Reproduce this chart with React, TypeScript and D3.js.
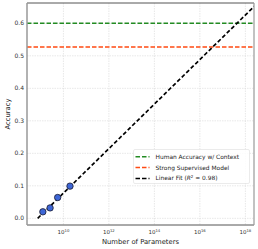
import React, { useEffect, useRef } from 'react';
import * as d3 from 'd3';

// data
const modelParams = [1.25e9, 2.6e9, 5.6e9, 1.95e10];
const modelAccuracy = [0.02, 0.032, 0.064, 0.099];
const humanAccuracy = 0.6;
const supervisedAccuracy = 0.527;
const fitSlope = 0.0685;
const fitStartLog = 8.87;
const fitEndLog = 18.6;
const xTickExps = [10, 12, 14, 16, 18];
const yTicks = [0.0, 0.1, 0.2, 0.3, 0.4, 0.5, 0.6];
const legendItems = [
  { label: 'Human Accuracy w/ Context', color: '#238b23' },
  { label: 'Strong Supervised Model', color: '#ff4a12' },
  { label: 'Linear Fit', color: '#000000' },
];

const App = () => {
  const ref = useRef<SVGSVGElement | null>(null);

  useEffect(() => {
    const width = 258;
    const height = 249;
    const margin = { top: 3, right: 4, bottom: 24, left: 27 };
    const svg = d3.select(ref.current);
    svg.selectAll('*').remove();

    const x = d3.scaleLog()
      .domain([Math.pow(10, 8.4), Math.pow(10, 18.38)])
      .range([margin.left, width - margin.right]);
    const y = d3.scaleLinear()
      .domain([-0.0206, 0.6625])
      .range([height - margin.bottom, margin.top]);

    const font = 'DejaVu Sans, sans-serif';

    svg.append('rect')
      .attr('width', width).attr('height', height).attr('fill', '#fff');

    svg.append('defs').append('clipPath').attr('id', 'plotclip')
      .append('rect')
      .attr('x', margin.left).attr('y', margin.top)
      .attr('width', width - margin.left - margin.right)
      .attr('height', height - margin.top - margin.bottom);

    // grid
    const grid = svg.append('g')
      .attr('stroke', '#d6d6d6').attr('stroke-width', 0.6).attr('stroke-dasharray', '1.5,1');
    yTicks.forEach(t => {
      grid.append('line')
        .attr('x1', margin.left).attr('x2', width - margin.right)
        .attr('y1', y(t)).attr('y2', y(t));
    });
    xTickExps.forEach(e => {
      grid.append('line')
        .attr('x1', x(Math.pow(10, e))).attr('x2', x(Math.pow(10, e)))
        .attr('y1', margin.top).attr('y2', height - margin.bottom);
    });

    const plot = svg.append('g').attr('clip-path', 'url(#plotclip)');

    plot.append('line')
      .attr('x1', margin.left).attr('x2', width - margin.right)
      .attr('y1', y(humanAccuracy)).attr('y2', y(humanAccuracy))
      .attr('stroke', legendItems[0].color).attr('stroke-width', 1.5)
      .attr('stroke-dasharray', '4.5,2');
    plot.append('line')
      .attr('x1', margin.left).attr('x2', width - margin.right)
      .attr('y1', y(supervisedAccuracy)).attr('y2', y(supervisedAccuracy))
      .attr('stroke', legendItems[1].color).attr('stroke-width', 1.5)
      .attr('stroke-dasharray', '4.5,2');

    const fitLogs = [fitStartLog, fitEndLog];
    const line = d3.line<number>()
      .x(l => x(Math.pow(10, l)))
      .y(l => y(fitSlope * (l - fitStartLog)));
    plot.append('path')
      .attr('d', line(fitLogs))
      .attr('fill', 'none').attr('stroke', '#000').attr('stroke-width', 1.7)
      .attr('stroke-dasharray', '4,2.3');

    plot.selectAll('circle.pt')
      .data(modelParams)
      .join('circle')
      .attr('class', 'pt')
      .attr('cx', d => x(d))
      .attr('cy', (d, i) => y(modelAccuracy[i]))
      .attr('r', 3.2)
      .attr('fill', '#3d66d6')
      .attr('stroke', '#1a1a2e').attr('stroke-width', 0.8);

    // spines
    const l = margin.left, r = width - margin.right, t = margin.top, b = height - margin.bottom;
    svg.append('line').attr('x1', l).attr('x2', r).attr('y1', t).attr('y2', t)
      .attr('stroke', '#555').attr('stroke-width', 1);
    svg.append('line').attr('x1', l).attr('x2', r).attr('y1', b).attr('y2', b)
      .attr('stroke', '#555').attr('stroke-width', 1);
    svg.append('line').attr('x1', l).attr('x2', l).attr('y1', t).attr('y2', b)
      .attr('stroke', '#999').attr('stroke-width', 1.5);
    svg.append('line').attr('x1', r).attr('x2', r).attr('y1', t).attr('y2', b)
      .attr('stroke', '#999').attr('stroke-width', 1.2);

    // y tick labels
    yTicks.forEach(v => {
      svg.append('text')
        .attr('x', l - 3).attr('y', y(v)).attr('dy', '0.35em')
        .attr('text-anchor', 'end')
        .style('font-family', font).style('font-size', '6px').attr('fill', '#333')
        .text(v.toFixed(1));
    });

    // x tick labels
    xTickExps.forEach(e => {
      const tx = svg.append('text')
        .attr('x', x(Math.pow(10, e))).attr('y', b + 9)
        .attr('text-anchor', 'middle')
        .style('font-family', font).style('font-size', '5.5px').attr('fill', '#333');
      tx.append('tspan').text('10');
      tx.append('tspan').attr('dy', '-2').style('font-size', '3.8px').text(String(e));
    });

    svg.append('text')
      .attr('x', (l + r) / 2).attr('y', height - 5)
      .attr('text-anchor', 'middle')
      .style('font-family', font).style('font-size', '6.8px').attr('fill', '#222')
      .text('Number of Parameters');

    svg.append('text')
      .attr('transform', `translate(9.5,${(t + b) / 2}) rotate(-90)`)
      .attr('text-anchor', 'middle')
      .style('font-family', font).style('font-size', '6.8px').attr('fill', '#222')
      .text('Accuracy');

    // legend
    const lg = svg.append('g').attr('transform', 'translate(133.5,149.5)');
    lg.append('rect')
      .attr('width', 116).attr('height', 34).attr('rx', 1.5)
      .attr('fill', '#fff').attr('fill-opacity', 0.85)
      .attr('stroke', '#ddd').attr('stroke-width', 0.6);
    legendItems.forEach((it, i) => {
      const yy = 7.3 + i * 10.8;
      lg.append('line')
        .attr('x1', 2).attr('x2', 16).attr('y1', yy).attr('y2', yy)
        .attr('stroke', it.color).attr('stroke-width', 1.5)
        .attr('stroke-dasharray', '4.5,2');
      const tx = lg.append('text')
        .attr('x', 22).attr('y', yy).attr('dy', '0.35em')
        .style('font-family', font).style('font-size', '5.9px').attr('fill', '#222')
        .text(it.label);
      if (i === 2) {
        tx.append('tspan').text(' (');
        tx.append('tspan').style('font-style', 'italic').text('R');
        tx.append('tspan').attr('dy', '-2').style('font-size', '4px').text('2');
        tx.append('tspan').attr('dy', '2').text(' = 0.98)');
      }
    });
  }, []);

  return (
    <div style={{ position: 'absolute', left: 0, top: 0 }}>
      <svg ref={ref} width={258} height={249} style={{ display: 'block' }} />
    </div>
  );
};

export default App;
